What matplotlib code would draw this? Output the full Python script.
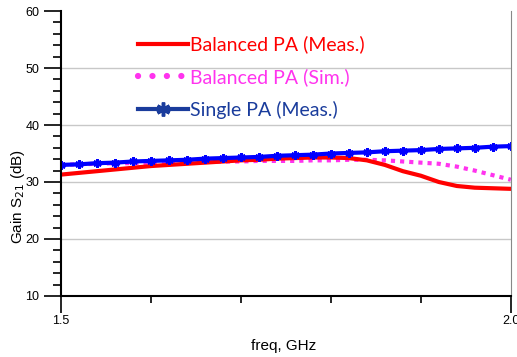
import matplotlib.pyplot as plt
from matplotlib.lines import Line2D
from matplotlib.ticker import MultipleLocator

# frequency points (GHz)
freq = [1.50, 1.52, 1.54, 1.56, 1.58, 1.60, 1.62, 1.64, 1.66, 1.68, 1.70, 1.72, 1.74,
        1.76, 1.78, 1.80, 1.82, 1.84, 1.86, 1.88, 1.90, 1.92, 1.94, 1.96, 1.98, 2.00]

# gain traces (dB)
balanced_meas = [31.3, 31.6, 31.9, 32.2, 32.5, 32.8, 33.0, 33.2, 33.4, 33.6, 33.8, 33.9, 34.1,
                 34.2, 34.3, 34.3, 34.2, 33.8, 33.0, 31.9, 31.1, 30.0, 29.3, 29.0, 28.9, 28.8]
balanced_sim = [33.0, 33.1, 33.2, 33.3, 33.3, 33.4, 33.4, 33.5, 33.5, 33.6, 33.6, 33.7, 33.7,
                33.7, 33.8, 33.8, 33.9, 33.9, 33.8, 33.6, 33.4, 33.2, 32.7, 32.0, 31.2, 30.4]
single_meas = [33.0, 33.1, 33.3, 33.4, 33.6, 33.7, 33.8, 33.9, 34.1, 34.2, 34.3, 34.4, 34.6,
               34.7, 34.8, 35.0, 35.1, 35.2, 35.4, 35.5, 35.6, 35.8, 35.9, 36.0, 36.2, 36.3]

labels = ["Balanced PA (Meas.)", "Balanced PA (Sim.)", "Single PA (Meas.)"]

fig = plt.figure(figsize=(5.17, 3.57), dpi=100)
ax = fig.add_axes([0.118, 0.171, 0.870, 0.798])

ax.plot(freq, balanced_sim, color="#ff33ee", lw=3, ls=(0, (1, 1.2)))
ax.plot(freq, balanced_meas, color="#ff0000", lw=3)
ax.plot(freq, single_meas, color="#0000ff", lw=3, marker=(6, 2, 0), ms=6, mew=2)

ax.set_xlim(1.5, 2.0)
ax.set_ylim(10, 60)
ax.set_xticks([1.5, 2.0])
ax.set_xticklabels(["1.5", "2.0"])
ax.xaxis.set_minor_locator(MultipleLocator(0.1))
ax.yaxis.set_major_locator(MultipleLocator(10))
ax.yaxis.set_minor_locator(MultipleLocator(2))
ax.tick_params(axis="both", which="major", length=12, width=1.2, labelsize=9, direction="out")
ax.tick_params(axis="x", which="major", pad=2)
ax.tick_params(axis="y", which="minor", length=6, width=1.2, direction="out")
ax.tick_params(axis="x", which="minor", length=5, width=1.2, direction="out")
for lab in ax.get_xticklabels() + ax.get_yticklabels():
    lab.set_family("Liberation Sans")

for y in [20, 30, 40, 50]:
    ax.axhline(y, color="#c8c8c8", lw=1, zorder=0)

ax.spines["top"].set_visible(False)
ax.spines["right"].set_color("#888888")
ax.spines["left"].set_linewidth(1.5)
ax.spines["bottom"].set_linewidth(1.5)

ax.set_xlabel("freq, GHz", family="Liberation Sans", fontsize=11)
ax.xaxis.set_label_coords(0.496, -0.15)
ax.set_ylabel("Gain S$_{21}$ (dB)", family="Liberation Sans", fontsize=11)
ax.yaxis.set_label_coords(-0.076, 0.35)

handles = [
    Line2D([], [], color="#ff0000", lw=3),
    Line2D([], [], color="#ff33ee", lw=4.5, ls=(0, (0.01, 2.3)), dash_capstyle="round"),
    Line2D([], [], color="#1a3c9c", lw=3, marker=(6, 2, 0), ms=10, mew=2.5),
]
leg = ax.legend(handles, labels, loc="upper left", bbox_to_anchor=(0.132, 0.975),
                frameon=False, handlelength=2.6, handletextpad=0.1, labelspacing=0.75,
                prop={"family": "Lato", "size": 14})
for txt, c in zip(leg.get_texts(), ["#ff0000", "#ff33ee", "#1a3c9c"]):
    txt.set_color(c)

fig.savefig("out.png", dpi=100)
